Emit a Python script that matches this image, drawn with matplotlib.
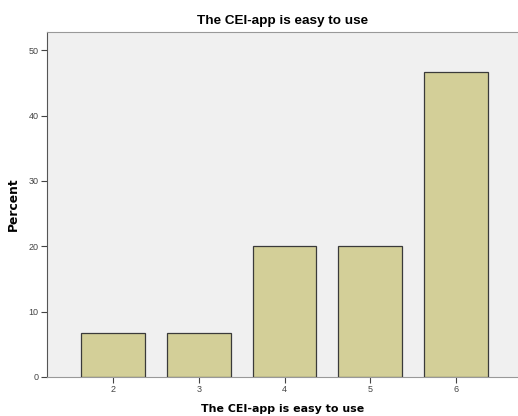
import matplotlib
matplotlib.use("Agg")
import matplotlib.pyplot as plt

categories = ["2", "3", "4", "5", "6"]
percent = [6.67, 6.67, 20.0, 20.0, 46.67]
yticks = [0, 10, 20, 30, 40, 50]
title = "The CEI-app is easy to use"
xlabel = "The CEI-app is easy to use"
ylabel = "Percent"

plt.rcParams['font.family'] = ['Liberation Sans', 'DejaVu Sans']

fig = plt.figure(figsize=(5.18, 4.16), dpi=100)
ax = fig.add_axes([47/518, 39/416, 1 - 47/518, (377-32)/416])
ax.set_facecolor("#f0f0f0")

x = list(range(len(categories)))
ax.bar(x, percent, width=0.745, color="#d3cf98", edgecolor="#3a3a3a", linewidth=0.9, zorder=3)

ax.set_xlim(-0.767, 4.72)
ax.set_ylim(0, 52.8)
ax.set_xticks(x)
ax.set_xticklabels(categories)
ax.set_yticks(yticks)
ax.tick_params(axis='both', labelsize=6.5, colors="#444444", length=4, width=0.8, pad=2)

ax.spines["right"].set_visible(False)
ax.spines["left"].set_color("#555555")
ax.spines["bottom"].set_color("#999999")
ax.spines["top"].set_color("#999999")

ax.set_xlabel(xlabel, fontsize=7.9, fontweight='bold', family='DejaVu Sans', labelpad=7)
ax.set_ylabel(ylabel, fontsize=8.8, fontweight='bold', family='DejaVu Sans', labelpad=6)
ax.set_title(title, fontsize=9.7, fontweight='bold', pad=6)

fig.savefig("out.png", dpi=100)
